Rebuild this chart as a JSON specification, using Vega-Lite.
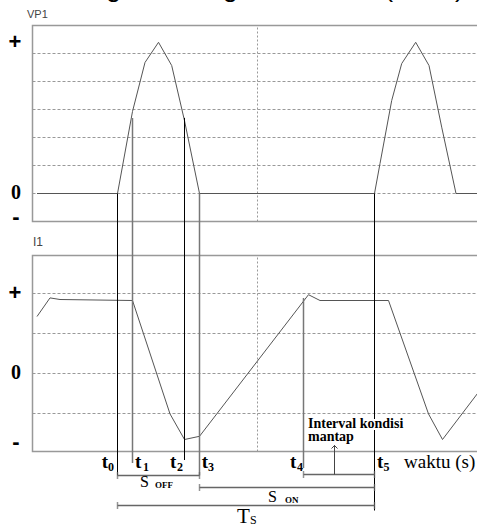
{
 "$schema": "https://vega.github.io/schema/vega-lite/v6.json",
 "width": 477, "height": 525, "padding": 0, "autosize": {"type": "none"},
 "background": "white",
 "config": {"view": {"stroke": null}},
 "resolve": {"scale": {"y": "independent"}},
 "layer": [
  {
   "encoding": {
    "x": {"field": "t", "type": "quantitative", "scale": {"domain": [-32.5, 444.5], "nice": false, "zero": false}, "axis": null},
    "y": {"field": "v", "type": "quantitative", "scale": {"domain": [-11.839, 6.9107], "nice": false, "zero": false}, "axis": null}
   },
   "layer": [
    {"data": {"values": [{"t": 0, "t2": 450, "v": 0}, {"t": 0, "t2": 450, "v": 1}, {"t": 0, "t2": 450, "v": 2}, {"t": 0, "t2": 450, "v": 3}, {"t": 0, "t2": 450, "v": 4}, {"t": 0, "t2": 450, "v": 5}]},
     "mark": {"type": "rule", "color": "#999", "strokeWidth": 1, "strokeDash": [3, 2]}, "encoding": {"x2": {"field": "t2"}}},
    {"data": {"values": [{"t": 225, "v": -1, "v2": 6}]},
     "mark": {"type": "rule", "color": "#999", "strokeWidth": 1, "strokeDash": [2, 2]}, "encoding": {"y2": {"field": "v2"}}},
    {"data": {"values": [{"t": 0, "t2": 450, "v": -1, "v2": 6}]},
     "mark": {"type": "rect", "fill": "transparent", "stroke": "#999", "strokeWidth": 1.5}, "encoding": {"x2": {"field": "t2"}, "y2": {"field": "v2"}}},
    {"data": {"values": [
      {"t": 4.5, "v": 0}, {"t": 85, "v": 0}, {"t": 100, "v": 2.93}, {"t": 112.5, "v": 4.68}, {"t": 126, "v": 5.4}, {"t": 139.2, "v": 4.57}, {"t": 152, "v": 2.6}, {"t": 167, "v": 0},
      {"t": 342, "v": 0}, {"t": 347.5, "v": 1.07}, {"t": 359.2, "v": 3.32}, {"t": 369.2, "v": 4.64}, {"t": 383.2, "v": 5.4}, {"t": 396.5, "v": 4.57}, {"t": 409.2, "v": 2.37}, {"t": 423.5, "v": 0}, {"t": 450, "v": 0}]},
     "mark": {"type": "line", "color": "#555", "strokeWidth": 1}},
    {"data": {"values": [{"label": "VP1", "t": -5.5, "v": 6.375}]},
     "mark": {"type": "text", "align": "left", "baseline": "middle", "font": "Liberation Sans", "fontSize": 11, "color": "#444"}, "encoding": {"text": {"field": "label"}}},
    {"data": {"values": [{"label": "+", "t": -17.5, "v": 5.41}, {"label": "-", "t": -16.5, "v": -0.84}]},
     "mark": {"type": "text", "align": "center", "baseline": "middle", "font": "Liberation Sans", "fontWeight": "bold", "fontSize": 22, "color": "#000"}, "encoding": {"text": {"field": "label"}}},
    {"data": {"values": [{"label": "0", "t": -16.5, "v": 0.02}]},
     "mark": {"type": "text", "align": "center", "baseline": "middle", "font": "Liberation Serif", "fontWeight": "bold", "fontSize": 20, "color": "#000"}, "encoding": {"text": {"field": "label"}}},
    {"data": {"values": [{"label": "Bentuk gelombang VP1 dan I1 (stabil)", "t": -16.5, "v": 7.02}]},
     "mark": {"type": "text", "align": "left", "baseline": "alphabetic", "font": "Liberation Sans", "fontSize": 26.6, "color": "#000"}, "encoding": {"text": {"field": "label"}}}
   ]
  },
  {
   "encoding": {
    "x": {"field": "t", "type": "quantitative", "scale": {"domain": [-32.5, 444.5], "nice": false, "zero": false}, "axis": null},
    "y": {"field": "v", "type": "quantitative", "scale": {"domain": [-3.7875, 9.3375], "nice": false, "zero": false}, "axis": null}
   },
   "layer": [
    {"data": {"values": [{"t": 0, "t2": 450, "v": -1}, {"t": 0, "t2": 450, "v": 0}, {"t": 0, "t2": 450, "v": 1}, {"t": 0, "t2": 450, "v": 2}]},
     "mark": {"type": "rule", "color": "#999", "strokeWidth": 1, "strokeDash": [3, 2]}, "encoding": {"x2": {"field": "t2"}}},
    {"data": {"values": [{"t": 225, "v": -1.95, "v2": 2.95}]},
     "mark": {"type": "rule", "color": "#999", "strokeWidth": 1, "strokeDash": [2, 2]}, "encoding": {"y2": {"field": "v2"}}},
    {"data": {"values": [{"t": 0, "t2": 450, "v": -1.95, "v2": 2.95}]},
     "mark": {"type": "rect", "fill": "transparent", "stroke": "#999", "strokeWidth": 1.5}, "encoding": {"x2": {"field": "t2"}, "y2": {"field": "v2"}}},
    {"data": {"values": [
      {"t": 4.5, "v": 1.425}, {"t": 17.5, "v": 1.89}, {"t": 27.5, "v": 1.85}, {"t": 100, "v": 1.825}, {"t": 137.5, "v": -1.01}, {"t": 152, "v": -1.65}, {"t": 167, "v": -1.57},
      {"t": 276, "v": 1.97}, {"t": 287.5, "v": 1.825}, {"t": 356, "v": 1.825}, {"t": 396, "v": -1.01}, {"t": 410, "v": -1.65}, {"t": 450, "v": -0.335}]},
     "mark": {"type": "line", "color": "#555", "strokeWidth": 1}},
    {"data": {"values": [
      {"name": "t0", "t": 85, "v": 4.5, "v2": -2.55},
      {"name": "t2", "t": 152, "v": 6.39, "v2": -2.1625},
      {"name": "t5a", "t": 342, "v": 4.5, "v2": -3.425}]},
     "mark": {"type": "rule", "color": "#000", "strokeWidth": 1}, "encoding": {"y2": {"field": "v2"}}},
    {"data": {"values": [
      {"name": "t1", "t": 100, "v": 6.39, "v2": -2.2375},
      {"name": "t3", "t": 167, "v": 4.5, "v2": -2.55},
      {"name": "t4", "t": 271, "v": 1.8875, "v2": -2.3625}]},
     "mark": {"type": "rule", "color": "#777", "strokeWidth": 1.5}, "encoding": {"y2": {"field": "v2"}}},
    {"data": {"values": [
      {"name": "S_OFF", "t": 85, "t2": 167, "v": -2.55},
      {"name": "S_ON", "t": 167, "t2": 342, "v": -2.85},
      {"name": "T_S", "t": 85, "t2": 342, "v": -3.3},
      {"name": "mantap", "t": 271, "t2": 342, "v": -2.525}]},
     "layer": [
      {"mark": {"type": "rule", "color": "#666", "strokeWidth": 1.5}, "encoding": {"x2": {"field": "t2"}}},
      {"mark": {"type": "tick", "orient": "vertical", "color": "#666", "size": 7, "thickness": 1.5}},
      {"mark": {"type": "tick", "orient": "vertical", "color": "#666", "size": 7, "thickness": 1.5}, "encoding": {"x": {"field": "t2", "type": "quantitative", "scale": {"domain": [-32.5, 444.5], "nice": false, "zero": false}, "axis": null}}}
     ]},
    {"data": {"values": [{"t": 302, "v": -2.525, "v2": -1.79}]},
     "mark": {"type": "rule", "color": "#444", "strokeWidth": 1}, "encoding": {"y2": {"field": "v2"}}},
    {"data": {"values": [{"t": 302, "v": -1.83}]},
     "mark": {"type": "point", "shape": "M-1,0.6L0,-0.4L1,0.6", "filled": false, "color": "#444", "size": 36, "strokeWidth": 1, "opacity": 1}},
    {"data": {"values": [{"label": "I1", "t": 0.5, "v": 3.295}]},
     "mark": {"type": "text", "align": "left", "baseline": "middle", "font": "Liberation Sans", "fontSize": 12, "color": "#444"}, "encoding": {"text": {"field": "label"}}},
    {"data": {"values": [{"label": "+", "t": -17.5, "v": 2.0125}, {"label": "-", "t": -16.5, "v": -1.7125}]},
     "mark": {"type": "text", "align": "center", "baseline": "middle", "font": "Liberation Sans", "fontWeight": "bold", "fontSize": 22, "color": "#000"}, "encoding": {"text": {"field": "label"}}},
    {"data": {"values": [{"label": "0", "t": -16.5, "v": 0.0125}]},
     "mark": {"type": "text", "align": "center", "baseline": "middle", "font": "Liberation Serif", "fontWeight": "bold", "fontSize": 20, "color": "#000"}, "encoding": {"text": {"field": "label"}}},
    {"data": {"values": [
      {"label": "t", "t": 69.2, "v": -2.3625}, {"label": "t", "t": 102.5, "v": -2.3625}, {"label": "t", "t": 137.5, "v": -2.3625},
      {"label": "t", "t": 169.2, "v": -2.3625}, {"label": "t", "t": 257.5, "v": -2.3625}, {"label": "t", "t": 344.5, "v": -2.3625}]},
     "mark": {"type": "text", "align": "left", "baseline": "alphabetic", "font": "Liberation Serif", "fontWeight": "bold", "fontSize": 19, "color": "#000"}, "encoding": {"text": {"field": "label"}}},
    {"data": {"values": [
      {"label": "0", "t": 75.5, "v": -2.425}, {"label": "1", "t": 110.5, "v": -2.425}, {"label": "2", "t": 144.5, "v": -2.425},
      {"label": "3", "t": 175.5, "v": -2.425}, {"label": "4", "t": 264.5, "v": -2.425}, {"label": "5", "t": 351, "v": -2.425}]},
     "mark": {"type": "text", "align": "left", "baseline": "alphabetic", "font": "Liberation Serif", "fontWeight": "bold", "fontSize": 12, "color": "#000"}, "encoding": {"text": {"field": "label"}}},
    {"data": {"values": [{"label": "waktu (s)", "t": 371.5, "v": -2.35}]},
     "mark": {"type": "text", "align": "left", "baseline": "alphabetic", "font": "Liberation Serif", "fontSize": 19, "color": "#000"}, "encoding": {"text": {"field": "label"}}},
    {"data": {"values": [{"label": "S", "t": 107.5, "v": -2.8375}, {"label": "S", "t": 235.5, "v": -3.2125}]},
     "mark": {"type": "text", "align": "left", "baseline": "alphabetic", "font": "Liberation Serif", "fontSize": 16, "color": "#000"}, "encoding": {"text": {"field": "label"}}},
    {"data": {"values": [{"label": "OFF", "t": 122.5, "v": -2.8625}, {"label": "ON", "t": 252.5, "v": -3.2375}]},
     "mark": {"type": "text", "align": "left", "baseline": "alphabetic", "font": "Liberation Serif", "fontWeight": "bold", "fontSize": 9, "color": "#000"}, "encoding": {"text": {"field": "label"}}},
    {"data": {"values": [{"label": "T", "t": 204.5, "v": -3.7375}]},
     "mark": {"type": "text", "align": "left", "baseline": "alphabetic", "font": "Liberation Serif", "fontSize": 21, "color": "#000"}, "encoding": {"text": {"field": "label"}}},
    {"data": {"values": [{"label": "S", "t": 217.5, "v": -3.7625}]},
     "mark": {"type": "text", "align": "left", "baseline": "alphabetic", "font": "Liberation Serif", "fontSize": 12, "color": "#000"}, "encoding": {"text": {"field": "label"}}},
    {"data": {"values": [{"label": "Interval kondisi", "t": 275.5, "v": -1.3625}, {"label": "mantap", "t": 275.5, "v": -1.6875}]},
     "layer": [
      {"mark": {"type": "text", "align": "left", "baseline": "alphabetic", "font": "Liberation Serif", "fontWeight": "bold", "fontSize": 14, "stroke": "white", "strokeWidth": 4, "fill": "white"}, "encoding": {"text": {"field": "label"}}},
      {"mark": {"type": "text", "align": "left", "baseline": "alphabetic", "font": "Liberation Serif", "fontWeight": "bold", "fontSize": 14, "color": "#000"}, "encoding": {"text": {"field": "label"}}}
     ]}
   ]
  }
 ]
}
